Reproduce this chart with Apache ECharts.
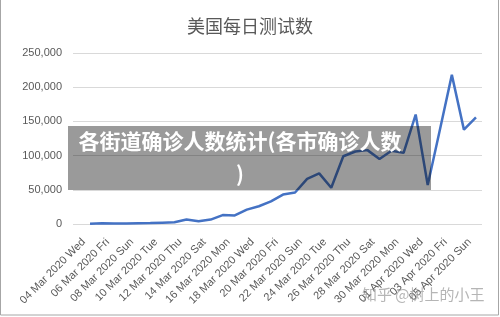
<!DOCTYPE html>
<html>
<head>
<meta charset="utf-8">
<script src="https://cdn.jsdelivr.net/npm/echarts@6/dist/echarts.min.js"></script>
<style>
html,body{margin:0;padding:0;background:#fff;}
#chart{width:500px;height:317px;}
</style>
</head>
<body>
<div id="chart"></div>
<script>
// ---- data ----
var titleText = '美国每日测试数';
var overlayText = '各街道确诊人数统计(各市确诊人数\n)';
var watermarkText = '知乎 @树上的小王';
var categories = [
  '04 Mar 2020 Wed','05 Mar 2020 Thu','06 Mar 2020 Fri','07 Mar 2020 Sat','08 Mar 2020 Sun',
  '09 Mar 2020 Mon','10 Mar 2020 Tue','11 Mar 2020 Wed','12 Mar 2020 Thu','13 Mar 2020 Fri',
  '14 Mar 2020 Sat','15 Mar 2020 Sun','16 Mar 2020 Mon','17 Mar 2020 Tue','18 Mar 2020 Wed',
  '19 Mar 2020 Thu','20 Mar 2020 Fri','21 Mar 2020 Sat','22 Mar 2020 Sun','23 Mar 2020 Mon',
  '24 Mar 2020 Tue','25 Mar 2020 Wed','26 Mar 2020 Thu','27 Mar 2020 Fri','28 Mar 2020 Sat',
  '29 Mar 2020 Sun','30 Mar 2020 Mon','31 Mar 2020 Tue','01 Apr 2020 Wed','02 Apr 2020 Thu',
  '03 Apr 2020 Fri','04 Apr 2020 Sat','05 Apr 2020 Sun'
];
var dailyTests = [
  500, 1200, 800, 900, 1200, 1500, 2000, 2500, 6500, 4000,
  6500, 13000, 12500, 21000, 26000, 33000, 43000, 46000, 66000, 74000,
  53000, 99000, 106000, 108000, 95000, 107000, 104000, 160000, 57000, 137000,
  218000, 138000, 156000
];
var yTicks = [0, 50000, 100000, 150000, 200000, 250000];

// ---- chart ----
var chart = echarts.init(document.getElementById('chart'));
var textColor = '#595959';
var fmt = function (v) { return String(v).replace(/\B(?=(\d{3})+(?!\d))/g, ','); };

chart.setOption({
  animation: false,
  backgroundColor: '#fff',
  title: {
    text: titleText,
    left: 'center',
    top: 12,
    textStyle: { color: textColor, fontSize: 18, fontWeight: 'normal', fontFamily: 'Noto Sans CJK SC' }
  },
  grid: [
    { left: 73, right: 18, top: 53, bottom: 93 },
    { left: 84, right: 18, top: 53, bottom: 93 }
  ],
  xAxis: [
    { gridIndex: 0, type: 'value', min: 0, max: 1, show: false },
    {
      gridIndex: 1, type: 'category', data: categories, boundaryGap: true,
      axisLine: { show: false }, axisTick: { show: false },
      axisLabel: {
        interval: 1, rotate: 45, color: textColor, fontSize: 11,
        fontFamily: 'Liberation Sans', margin: 10, padding: [0, 9, 0, 0]
      }
    }
  ],
  yAxis: [
    {
      gridIndex: 0, type: 'value', min: yTicks[0], max: yTicks[yTicks.length - 1], interval: 50000,
      axisLine: { show: false }, axisTick: { show: false },
      splitLine: { lineStyle: { color: '#d9d9d9', width: 1 } },
      axisLabel: { color: textColor, fontSize: 11, fontFamily: 'Liberation Sans', margin: 11, formatter: fmt }
    },
    {
      gridIndex: 1, type: 'value', min: yTicks[0], max: yTicks[yTicks.length - 1], interval: 50000,
      show: false, splitLine: { show: false }
    }
  ],
  series: [{
    type: 'line',
    xAxisIndex: 1, yAxisIndex: 1,
    data: dailyTests,
    symbol: 'none',
    lineStyle: { color: '#4472C4', width: 2.5 },
    z: 2
  }],
  graphic: [
    {
      type: 'rect', left: 68, top: 126, z: 100,
      shape: { width: 363, height: 64 },
      style: { fill: 'rgba(10,10,10,0.41)' }
    },
    {
      type: 'text', x: 240, y: 125, z: 101,
      style: {
        text: overlayText, fill: '#fff', fontSize: 21, fontWeight: 'bold',
        fontFamily: 'Noto Sans CJK SC', align: 'center', verticalAlign: 'top', lineHeight: 33
      }
    },
    {
      type: 'text', x: 362, y: 287, z: 101,
      style: {
        text: watermarkText, fill: 'rgba(150,150,150,0.7)', fontSize: 15,
        fontFamily: 'Noto Sans CJK SC'
      }
    },
    {
      type: 'rect', z: 102, silent: true,
      shape: { x: 0.5, y: -3, width: 498, height: 318 },
      style: { fill: 'none', stroke: '#a6a6a6', lineWidth: 1 }
    }
  ]
});
</script>
</body>
</html>
